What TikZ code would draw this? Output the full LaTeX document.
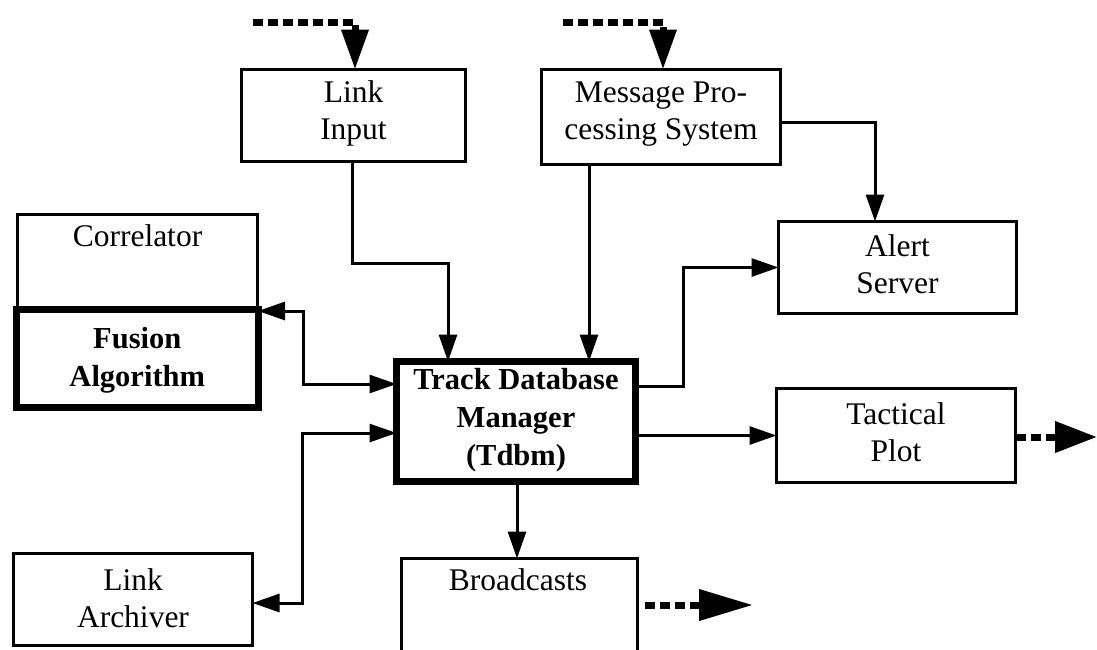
\documentclass[tikz,border=0pt]{standalone}
\usepackage{fontspec}
\setmainfont{Liberation Serif}
\usetikzlibrary{arrows.meta}
\begin{document}
\begin{tikzpicture}[x=1pt,y=-1pt,
  box/.style={draw, line width=3pt, inner sep=0pt, outer sep=0pt},
  heavybox/.style={draw, line width=7pt, inner sep=0pt, outer sep=0pt},
  txt/.style={font=\fontsize{31.5}{37}\selectfont, align=center, inner sep=0pt},
  btxt/.style={font=\fontsize{30.5}{38}\selectfont\bfseries, align=center, inner sep=0pt},
  arr/.style={line width=3pt, line join=miter, -{Triangle[length=27pt,width=18pt]}},
  arrboth/.style={line width=3pt, line join=miter,
    {Triangle[length=27pt,width=18pt]}-{Triangle[length=27pt,width=18pt]}},
  feed/.style={line width=7pt, dash pattern=on 10pt off 5pt, line join=miter}
]
\clip (0,0) rectangle (1097,649);

% ---- boxes ----
\node[box, minimum width=224, minimum height=92] (linkin) at (353.5,115.5) {};
\node[txt] (linkintxt) at (353.5,113) {Link\\Input};

\node[box, minimum width=239, minimum height=95] (mps) at (661,117) {};
\node[txt] (mpstxt) at (661,114) {Message Pro-\\cessing System};

\node[box, minimum width=240, minimum height=95] (corr) at (137.5,262) {};
\node[txt, anchor=base] (corrtxt) at (137.5,246) {Correlator};
\node[heavybox, fill=white, minimum width=241.5, minimum height=98] (fusion) at (137.25,358) {};
\node[btxt] (fusiontxt) at (137.25,360) {Fusion\\Algorithm};

\node[box, minimum width=238, minimum height=92] (alert) at (897.5,267.5) {};
\node[txt] (alerttxt) at (897.5,264) {Alert\\Server};

\node[heavybox, minimum width=239, minimum height=120] (tdbm) at (516,421.5) {};
\node[btxt] (tdbmtxt) at (516,420) {Track Database\\Manager\\(Tdbm)};

\node[box, minimum width=239, minimum height=94] (tact) at (896,435.5) {};
\node[txt] (tacttxt) at (896,432) {Tactical\\Plot};

\node[box, minimum width=239, minimum height=92] (arch) at (133,599.5) {};
\node[txt] (archtxt) at (133,598) {Link\\Archiver};

\node[box, minimum width=236, minimum height=200] (broad) at (519.5,658.5) {};
\node[txt, anchor=base] (broadtxt) at (518,590) {Broadcasts};

% ---- bend points ----
\coordinate (j1) at (352,263);
\coordinate (j2) at (448,263);
\coordinate (j3) at (589,0);
\coordinate (j4) at (875,122);
\coordinate (j5) at (683,386);
\coordinate (j6) at (517,0);
\coordinate (j7a) at (303,311);
\coordinate (j7b) at (303,384);
\coordinate (j8a) at (302,433);
\coordinate (j8b) at (302,603);

% ---- solid connectors ----
\draw[arr] (linkin.south -| j1) -- (j1) -- (j2) -- (tdbm.north -| j2);
\draw[arr] (mps.south -| j3) -- (tdbm.north -| j3);
\draw[arr] (mps.east |- j4) -| (alert.north -| j4);
\draw[arr] (tdbm.east |- j5) -- (j5) |- (alert.west);
\draw[arr] (tdbm.east |- tact.west) -- (tact.west);
\draw[arr] (tdbm.south -| j6) -- (broad.north -| j6);
\draw[arrboth] (fusion.east |- j7a) -- (j7a) -- (j7b) -- (tdbm.west |- j7b);
\draw[arrboth] (tdbm.west |- j8a) -- (j8a) -- (j8b) -- (arch.east |- j8b);

% ---- external feeds ----
\coordinate (f1s) at (253,22);
\coordinate (f1c) at (355,22);
\coordinate (f2s) at (563,22);
\coordinate (f2c) at (663,22);
\coordinate (f3e) at (1097,437);
\coordinate (f4s) at (645,605);
\coordinate (f4e) at (753,605);
\draw[feed, -{Triangle[length=40pt,width=26pt]}] (f1s) -- (f1c) -- (linkin.north -| f1c);
\draw[feed, -{Triangle[length=40pt,width=26pt]}] (f2s) -- (f2c) -- (mps.north -| f2c);
\draw[feed, -{Triangle[length=42pt,width=30pt]}] (tact.east |- f3e) -- (f3e);
\draw[feed, -{Triangle[length=54pt,width=30pt]}] (f4s) -- (f4e);
\end{tikzpicture}
\end{document}
